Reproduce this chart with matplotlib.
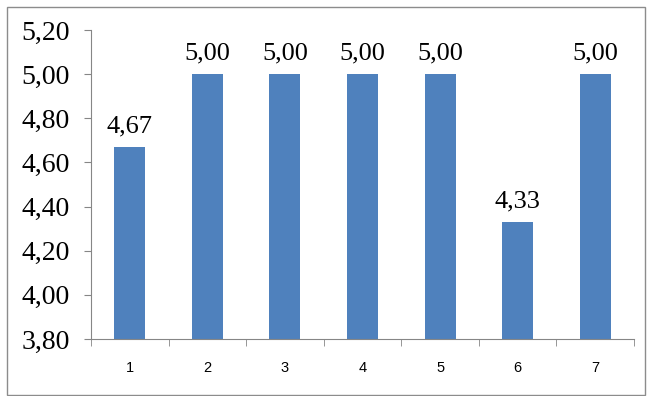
import matplotlib
matplotlib.use("Agg")
import matplotlib.pyplot as plt
from matplotlib.patches import Rectangle
from matplotlib.ticker import FixedLocator

categories = ["1", "2", "3", "4", "5", "6", "7"]
values = [4.67, 5.00, 5.00, 5.00, 5.00, 4.33, 5.00]
yticks = [3.80, 4.00, 4.20, 4.40, 4.60, 4.80, 5.00, 5.20]

fig = plt.figure(figsize=(6.49, 3.96), dpi=100)
fig.patches.append(Rectangle((7/649, 1/396), 638/649, 388/396, transform=fig.transFigure,
                             fill=False, edgecolor="#8c8c8c", linewidth=1.0))
ax = fig.add_axes([91/649, 1 - 339/396, 543/649, 309/396])

x = list(range(len(categories)))
ax.bar(x, values, width=0.4, color="#4F81BD", zorder=2)
ax.set_xlim(-0.5, len(categories) - 0.5)
ax.set_ylim(3.80, 5.20)

ax.set_yticks(yticks)
ax.set_yticklabels([f"{v:.2f}".replace(".", ",") for v in yticks],
                   fontfamily="Liberation Serif", fontsize=20)
ax.set_xticks(x)
ax.set_xticklabels(categories, fontfamily="Liberation Sans", fontsize=10.5)
ax.xaxis.set_minor_locator(FixedLocator([i - 0.5 for i in range(len(categories) + 1)]))
ax.tick_params(axis="x", which="major", length=0, pad=16)
ax.tick_params(axis="x", which="minor", length=5, color="#868686", direction="out")
ax.tick_params(axis="y", length=5, color="#868686", direction="out", pad=10)

for s in ["top", "right"]:
    ax.spines[s].set_visible(False)
for s in ["left", "bottom"]:
    ax.spines[s].set_color("#868686")

for xi, v in zip(x, values):
    ax.annotate(f"{v:.2f}".replace(".", ","), (xi, v), xytext=(0, 7),
                textcoords="offset points", ha="center", va="bottom",
                fontfamily="Liberation Serif", fontsize=19)

fig.savefig("out.png", dpi=100)
